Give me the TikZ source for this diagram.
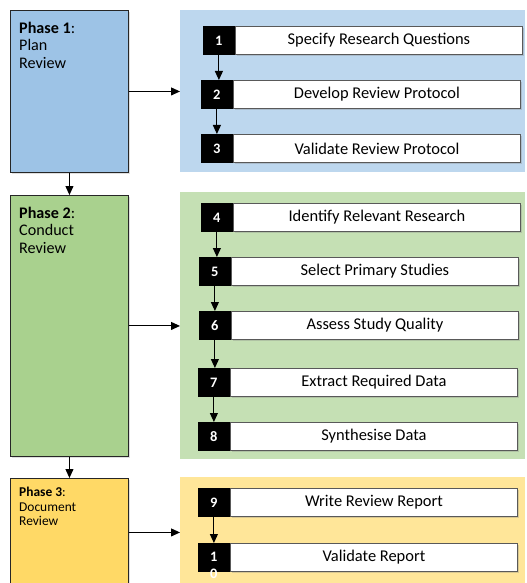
\documentclass[tikz,border=0pt]{standalone}
\usepackage{fontspec}
\setmainfont{Carlito}
\usetikzlibrary{arrows.meta,shadows}

\definecolor{phaseblue}{HTML}{9DC3E6}
\definecolor{panelblue}{HTML}{BDD7EE}
\definecolor{phasegreen}{HTML}{A9D18E}
\definecolor{panelgreen}{HTML}{C5E0B4}
\definecolor{phaseyellow}{HTML}{FFD966}
\definecolor{panelyellow}{HTML}{FFE699}

\tikzset{
  phasebox/.style={draw=black!85, line width=0.9bp, anchor=north west, inner sep=0pt,
    drop shadow={opacity=0.25, shadow xshift=1.5bp, shadow yshift=-1.5bp}},
  panel/.style={anchor=north west, inner sep=0pt},
  phasetext/.style={anchor=north west, align=left, inner sep=0pt,
    font=\fontsize{16.2}{17.5}\selectfont},
  smallphasetext/.style={anchor=north west, align=left, inner sep=0pt,
    font=\fontsize{13.5}{14.5}\selectfont},
  numbox/.style={fill=black, draw=black, line width=0.8bp, anchor=north west,
    minimum width=31bp, minimum height=28bp, inner sep=0pt, text=white,
    font=\fontsize{14.5}{16}\selectfont\bfseries},
  numtext/.style={text=white, align=center, inner sep=0pt,
    font=\fontsize{14.5}{17}\selectfont\bfseries},
  stepbox/.style={draw=black!65, line width=1.2bp, fill=white, anchor=west,
    minimum width=287bp, minimum height=28bp, inner sep=0pt,
    font=\fontsize{16.5}{18}\selectfont,
    drop shadow={opacity=0.3, shadow xshift=1.2bp, shadow yshift=-1.2bp}},
  flow/.style={-{Triangle[length=9bp,width=8bp]}, line width=1bp, draw=black}
}

\begin{document}
\begin{tikzpicture}[x=1bp,y=-1bp]
\useasboundingbox (0,0) rectangle (527,583);

% phase boxes
\node[phasebox, fill=phaseblue,   minimum width=118bp, minimum height=162bp] (p1) at (10,10) {};
\node[phasebox, fill=phasegreen,  minimum width=118bp, minimum height=261bp] (p2) at (10,195) {};
\node[phasebox, fill=phaseyellow, minimum width=118bp, minimum height=108bp] (p3) at (10,478) {};

\node[phasetext] (p1t) at ([xshift=9bp,yshift=-12bp]p1.north west) {\textbf{Phase 1}:\\Plan\\Review};
\node[phasetext] (p2t) at ([xshift=9bp,yshift=-12bp]p2.north west) {\textbf{Phase 2}:\\Conduct\\Review};
\node[smallphasetext] (p3t) at ([xshift=9bp,yshift=-9bp]p3.north west) {\textbf{Phase 3}:\\Document\\Review};

% activity panels
\node[panel, fill=panelblue,   minimum width=345bp, minimum height=162bp] (q1) at (180,10) {};
\node[panel, fill=panelgreen,  minimum width=345bp, minimum height=267bp] (q2) at (180,192) {};
\node[panel, fill=panelyellow, minimum width=345bp, minimum height=123bp] (q3) at (180,477) {};

% numbered steps
\node[numbox] (n1) at (203,26) {1};
\node[stepbox] (t1) at (n1.east) {Specify Research Questions};
\node[numbox] (n2) at (201,80) {2};
\node[stepbox] (t2) at (n2.east) {Develop Review Protocol};
\node[numbox] (n3) at (201,134) {3};
\node[stepbox] (t3) at (n3.east) {Validate Review Protocol};

\node[numbox] (n4) at (201,203) {4};
\node[stepbox] (t4) at (n4.east) {Identify Relevant Research};
\node[numbox] (n5) at (199,257) {5};
\node[stepbox] (t5) at (n5.east) {Select Primary Studies};
\node[numbox] (n6) at (199,311) {6};
\node[stepbox] (t6) at (n6.east) {Assess Study Quality};
\node[numbox] (n7) at (198,368) {7};
\node[stepbox] (t7) at (n7.east) {Extract Required Data};
\node[numbox] (n8) at (198,422) {8};
\node[stepbox] (t8) at (n8.east) {Synthesise Data};

\node[numbox] (n9) at (198,488) {9};
\node[stepbox] (t9) at (n9.east) {Write Review Report};
\node[numbox] (n10) at (198,543) {};
\node[numtext, anchor=north] (n10t) at ([yshift=-9bp]n10.north) {1\\0};
\node[stepbox] (t10) at (n10.east) {Validate Report};

% connectors
\draw[flow] (p1.south) -- (p2.north);
\draw[flow] (p2.south) -- (p3.north);
\draw[flow] (p1.east) -- (p1.east -| q1.west);
\draw[flow] (p2.east) -- (p2.east -| q2.west);
\draw[flow] (p3.east) -- (p3.east -| q3.west);

\foreach \a/\b in {1/2,2/3,4/5,5/6,6/7,7/8,9/10}
  \draw[flow] (n\a.south) -- (n\a.south |- n\b.north);
\end{tikzpicture}
\end{document}
